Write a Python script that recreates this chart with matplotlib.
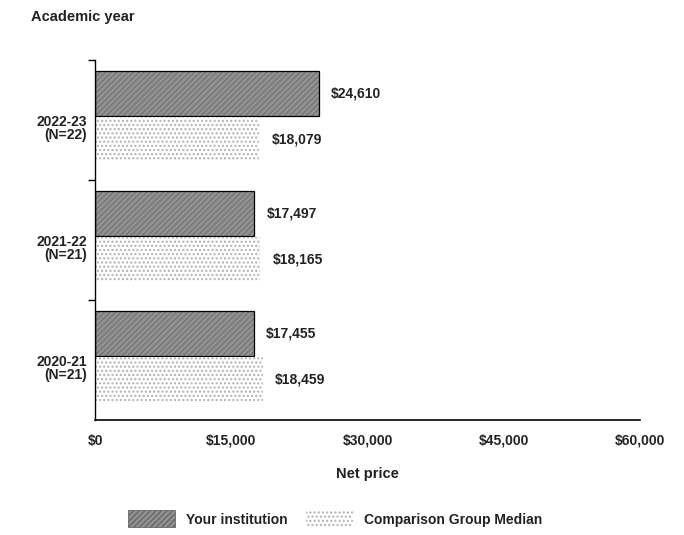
import numpy as np
import matplotlib.pyplot as plt
from matplotlib.patches import Patch

plt.rcParams['font.family'] = ['Liberation Sans', 'DejaVu Sans']

# Data (bottom to top)
years = ['2020-21\n(N=21)', '2021-22\n(N=21)', '2022-23\n(N=22)']
your_inst = [17455, 17497, 24610]
comparison = [18459, 18165, 18079]
xticks = [0, 15000, 30000, 45000, 60000]
xtick_labels = ['$0', '$15,000', '$30,000', '$45,000', '$60,000']

dark = '#929292'
light = '#ffffff'

fig = plt.figure(figsize=(6.84, 5.35), dpi=100)
ax = fig.add_axes([0.139, 0.215, 0.797, 0.673])

y = np.arange(len(years))
h = 0.37

# Your institution bars (hatched gray, black outline)
ax.barh(y + 0.22, your_inst, height=h, color=dark, hatch='//////',
        edgecolor='#767676', linewidth=0)
ax.barh(y + 0.22, your_inst, height=h, fill=False, edgecolor='black', linewidth=0.9)

# Comparison group median (light dotted)
ax.barh(y - 0.16, comparison, height=h, color=light, hatch='....',
        edgecolor='#b0b0b0', linewidth=0)

for i in range(len(years)):
    ax.annotate('${:,}'.format(your_inst[i]), (your_inst[i], y[i] + 0.22),
                xytext=(9, 0), textcoords='offset points', va='center',
                ha='left', fontsize=10, fontweight='bold', color='#222222')
    ax.annotate('${:,}'.format(comparison[i]), (comparison[i], y[i] - 0.16),
                xytext=(9, 0), textcoords='offset points', va='center',
                ha='left', fontsize=10, fontweight='bold', color='#222222')

ax.set_xlim(0, 60000)
ax.set_ylim(-0.5, 2.5)
ax.set_xticks(xticks)
ax.set_xticklabels(xtick_labels, fontsize=10, fontweight='bold', color='#222222')
ax.tick_params(axis='x', length=0, pad=10)

# y ticks at category boundaries, labels slightly below centers
ax.set_yticks([0.5, 1.5, 2.5])
ax.set_yticklabels([])
ax.set_yticks(y - 0.06, minor=True)
ax.set_yticklabels(years, minor=True, fontsize=10, fontweight='bold',
                   color='#222222', linespacing=0.95)
ax.tick_params(axis='y', which='minor', length=0, pad=6)
ax.tick_params(axis='y', which='major', length=5, width=1)

for s in ['top', 'right']:
    ax.spines[s].set_visible(False)
ax.spines['left'].set_linewidth(1)
ax.spines['bottom'].set_linewidth(1.2)

ax.set_xlabel('Net price', fontsize=10.5, fontweight='bold', labelpad=14,
              color='#222222')
fig.text(0.045, 0.968, 'Academic year', fontsize=10.5, fontweight='bold',
         color='#222222', ha='left', va='center')

handles = [Patch(facecolor=dark, hatch='//////', edgecolor='#666666',
                 linewidth=0.6, label='Your institution'),
           Patch(facecolor=light, hatch='....', edgecolor='#b0b0b0',
                 linewidth=0, label='Comparison Group Median')]
leg = fig.legend(handles=handles, loc='center', bbox_to_anchor=(0.49, 0.03),
                 ncol=2, frameon=False, handlelength=3.4, handleheight=1.5,
                 columnspacing=1.3, prop={'weight': 'bold', 'size': 10})
for t in leg.get_texts():
    t.set_color('#222222')

fig.savefig('out.png', dpi=100)
